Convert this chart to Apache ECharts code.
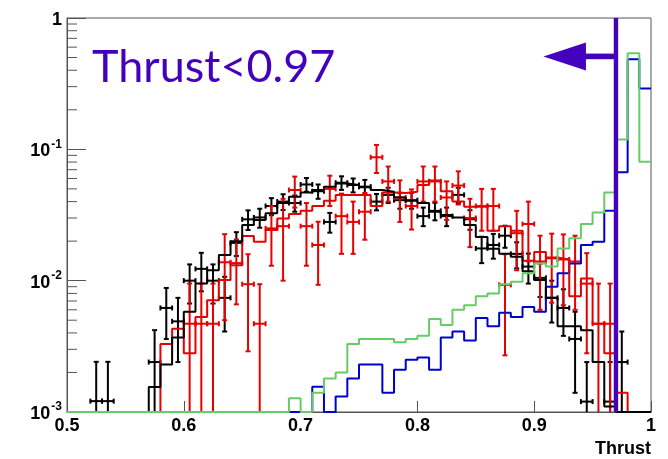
<!DOCTYPE html>
<html><head><meta charset="utf-8">
<script src="https://cdn.jsdelivr.net/npm/echarts@6/dist/echarts.min.js"></script>
<style>html,body{margin:0;padding:0;background:#fff}#c{width:668px;height:459px}</style>
</head><body><div id="c"></div>
<script>
// ---- data ----
const binEdges = [0.50,0.51,0.52,0.53,0.54,0.55,0.56,0.57,0.58,0.59,0.60,0.61,0.62,0.63,0.64,0.65,0.66,0.67,0.68,0.69,0.70,0.71,0.72,0.73,0.74,0.75,0.76,0.77,0.78,0.79,0.80,0.81,0.82,0.83,0.84,0.85,0.86,0.87,0.88,0.89,0.90,0.91,0.92,0.93,0.94,0.95,0.96,0.97,0.98,0.99,1.00];
const blackMC = [0,0,0,0,0,0,0,0.00155,0.0023,0.0037,0.0058,0.0095,0.012,0.0157,0.020,0.0265,0.029,0.0326,0.039,0.0436,0.047,0.049,0.052,0.055,0.0535,0.0514,0.049,0.0476,0.043,0.0406,0.039,0.0335,0.0316,0.0303,0.0265,0.0215,0.0175,0.016,0.0152,0.0118,0.0101,0.0074,0.0045,0.0045,0.0042,0.0024,0.0011,0,0,0];
const redMC = [0,0,0,0,0,0,0,0,0.0033,0.0043,0.0028,0.0053,0.0071,0.0101,0.0131,0.0219,0.0198,0.0243,0.0297,0.0322,0.034,0.037,0.0406,0.045,0.045,0.045,0.037,0.047,0.0465,0.0476,0.0535,0.058,0.048,0.040,0.0365,0.0365,0.024,0.026,0.024,0.0142,0.0165,0.015,0.0145,0.0076,0.0104,0.0047,0.0028,0.0014,0,0];
const greenMC = [0,0,0,0,0,0,0,0,0,0,0,0,0,0,0,0,0,0,0,0.00127,0,0.0014,0.0018,0.002,0.0033,0.0036,0.0036,0.0036,0.0034,0.0036,0.0038,0.0051,0.0046,0.006,0.0065,0.0076,0.008,0.0094,0.0098,0.0114,0.0135,0.0128,0.0176,0.021,0.027,0.033,0.047,0.119,0.538,0.0805];
const blueMC = [0,0,0,0,0,0,0,0,0,0,0,0,0,0,0,0,0,0,0,0,0,0.00156,0,0.00131,0.0018,0.0023,0.0023,0.0014,0.0021,0.0025,0.0026,0.0021,0.0037,0.0041,0.0035,0.0052,0.0045,0.0057,0.0053,0.0063,0.0058,0.009,0.0114,0.0135,0.0187,0.0198,0.034,0.067,0.485,0.291];
const blackData = [null,null,0.00121,0.00121,null,null,null,0.0024,0.0062,0.0049,0.010,0.0123,0.010,0.0074,0.0194,0.0293,0.0303,0.037,0.040,0.039,0.054,0.048,0.028,0.0557,0.0535,0.052,0.040,0.045,0.041,0.041,0.031,0.034,0.031,0.045,0.0294,0.0176,0.0187,0.022,0.016,0.0128,0.0105,0.0074,0.0062,0.0036,0.0012,null,0.0012,0.0024,null,null];
const blackErr  = [null,null,0.0012,0.0012,null,null,null,0.0018,0.0026,0.0025,0.0033,0.004,0.0033,0.0033,0.004,0.005,0.005,0.0055,0.0055,0.0055,0.0065,0.006,0.0048,0.0066,0.0065,0.0065,0.0057,0.006,0.0057,0.0057,0.005,0.0052,0.005,0.006,0.005,0.004,0.004,0.0042,0.0036,0.0033,0.003,0.0026,0.0024,0.0022,0.0012,null,0.0012,0.0017,null,null];
const redData = [null,null,null,null,null,null,null,null,null,null,0.0047,0.0047,0.0047,0.0138,0.0136,0.0094,0.0047,0.025,0.026,0.049,0.026,0.0187,0.05,0.031,0.028,0.0335,0.087,0.057,0.043,0.037,0.057,0.057,0.043,0.053,0.030,0.037,0.037,0.0093,0.023,0.027,0.014,0.0148,0.0145,0.014,0.0095,0.0047,0.0047,null,null,null];
const redErr  = [null,null,null,null,null,null,null,null,null,null,0.0048,0.0048,0.0048,0.0088,0.007,0.0065,0.0047,0.012,0.016,0.013,0.013,0.0094,0.013,0.015,0.012,0.013,0.021,0.017,0.015,0.0125,0.017,0.017,0.014,0.015,0.012,0.013,0.013,0.0066,0.011,0.013,0.008,0.008,0.008,0.008,0.0067,0.0048,0.0048,null,null,null];
const yMinorTicks = [0.002,0.003,0.004,0.005,0.006,0.007,0.008,0.009,0.02,0.03,0.04,0.05,0.06,0.07,0.08,0.09,0.2,0.3,0.4,0.5,0.6,0.7,0.8,0.9];
const xTicks = [0.5,0.6,0.7,0.8,0.9,1.0];
const cutValue = 0.97;
const arrowLevel = 0.51;
const cutLabel = 'Thrust<0.97';
const xTitle = 'Thrust';

// ---- style ----
const X_MIN = 0.5, X_MAX = 1.0, Y_MIN = 0.001, Y_MAX = 1;
const PURPLE = '#4300bd';
const COLORS = {black:'#000000', red:'#e60000', green:'#66cc66', blue:'#0000cc'};
const AXIS_COL = '#555555';

function stepData(vals){
  const d = vals.map((v,i)=>[binEdges[i], v>0 ? v : Y_MIN]);
  d.push([binEdges[vals.length], d[d.length-1][1]]);
  return d;
}
function pointData(vals, errs){
  const d = [];
  vals.forEach((v,i)=>{
    if (v == null) return;
    const c = (binEdges[i]+binEdges[i+1])/2, hw = (binEdges[i+1]-binEdges[i])/2;
    d.push([c, v, errs[i], hw]);
  });
  return d;
}
function errorBarItem(params, api){
  const xc = api.value(0), v = api.value(1), e = api.value(2), hw = api.value(3);
  const lo = Math.max(v - e, Y_MIN), hi = Math.min(v + e, Y_MAX);
  const c = api.coord([xc, v]), l = api.coord([xc-hw, v]), r = api.coord([xc+hw, v]);
  const t = api.coord([xc, hi]), b = api.coord([xc, lo]);
  const style = {stroke: api.visual('color'), lineWidth: 2};
  const cap = 2.5;
  const ch = [
    {type:'line', shape:{x1:l[0], y1:c[1], x2:r[0], y2:c[1]}, style},
    {type:'line', shape:{x1:c[0], y1:t[1], x2:c[0], y2:b[1]}, style},
    {type:'line', shape:{x1:c[0]-cap, y1:t[1], x2:c[0]+cap, y2:t[1]}, style},
    {type:'line', shape:{x1:l[0], y1:c[1]-cap, x2:l[0], y2:c[1]+cap}, style},
    {type:'line', shape:{x1:r[0], y1:c[1]-cap, x2:r[0], y2:c[1]+cap}, style}
  ];
  if (v - e > Y_MIN) ch.push({type:'line', shape:{x1:c[0]-cap, y1:b[1], x2:c[0]+cap, y2:b[1]}, style});
  return {type:'group', children: ch};
}
function stepSeries(vals, color){
  return {type:'line', step:'end', data: stepData(vals), symbol:'none', clip:false,
    lineStyle:{color, width:2}, itemStyle:{color}, silent:true};
}

const chart = echarts.init(document.getElementById('c'), null, {renderer:'canvas'});
chart.setOption({
  animation:false,
  backgroundColor:'#ffffff',
  grid:{left:67, right:17, top:18, bottom:47, show:true, borderColor:AXIS_COL, borderWidth:1, backgroundColor:'transparent'},
  xAxis:{type:'value', min:X_MIN, max:X_MAX, interval:0.1,
    axisLine:{show:true, onZero:false, lineStyle:{color:AXIS_COL, width:1}},
    axisTick:{show:true, inside:true, length:11, lineStyle:{color:AXIS_COL}},
    splitLine:{show:false},
    axisLabel:{margin:5, color:'#000', fontSize:18, fontWeight:'bold', fontFamily:'Liberation Sans, Arial, sans-serif',
      formatter:v=>String(Math.round(v*10)/10)}},
  yAxis:{type:'log', logBase:10, min:Y_MIN, max:Y_MAX,
    axisLine:{show:true, lineStyle:{color:AXIS_COL, width:1}},
    axisTick:{show:true, inside:true, length:19, lineStyle:{color:AXIS_COL}},
    splitLine:{show:false},
    axisLabel:{margin:5, color:'#000', fontFamily:'Liberation Sans, Arial, sans-serif',
      formatter:v=>{ const k = Math.round(Math.log10(v)); return k===0 ? '{b|1}' : '{b|10}{s|'+k+'}'; },
      rich:{ b:{fontSize:18, fontWeight:'bold', lineHeight:22, padding:[10,0,0,0], verticalAlign:'bottom'},
             s:{fontSize:12, fontWeight:'bold', lineHeight:22, verticalAlign:'top', padding:[0,0,0,1]} }}},
  graphic:[
    {type:'text', x:92, y:45, scaleX:1.0, z:100, style:{text:cutLabel, fontSize:45, fontFamily:'Lato, sans-serif', fontWeight:'normal', fill:PURPLE, textVerticalAlign:'top'}},
    {type:'text', right:17, top:440, z:100, style:{text:xTitle, fontSize:18, fontWeight:'bold', fontFamily:'Liberation Sans, Arial, sans-serif', fill:'#000'}}
  ],
  series:[
    {type:'custom', silent:true, clip:false, data:yMinorTicks.map(v=>[X_MIN, v]),
      renderItem:(p, api)=>{ const q = api.coord([api.value(0), api.value(1)]);
        return {type:'line', shape:{x1:q[0], y1:q[1], x2:q[0]+10, y2:q[1]}, style:{stroke:AXIS_COL, lineWidth:1}}; }},
    stepSeries(blueMC, COLORS.blue),
    stepSeries(redMC, COLORS.red),
    stepSeries(blackMC, COLORS.black),
    stepSeries(greenMC, COLORS.green),
    {type:'custom', silent:true, clip:false, itemStyle:{color:COLORS.black}, data:pointData(blackData, blackErr), renderItem:errorBarItem},
    {type:'custom', silent:true, clip:false, itemStyle:{color:COLORS.red}, data:pointData(redData, redErr), renderItem:errorBarItem},
    {type:'custom', silent:true, clip:false, z:10, data:[[cutValue, arrowLevel]],
      renderItem:(p, api)=>{
        const cx = api.value(0), ay = api.value(1);
        const t = api.coord([cx, Y_MAX]), b = api.coord([cx, Y_MIN]), a = api.coord([cx, ay]);
        return {type:'group', children:[
          {type:'rect', shape:{x:t[0]-2.2, y:t[1], width:4.4, height:b[1]-t[1]}, style:{fill:PURPLE}},
          {type:'rect', shape:{x:a[0]-31, y:a[1]-2.8, width:31, height:5.6}, style:{fill:PURPLE}},
          {type:'polygon', shape:{points:[[a[0]-72.5, a[1]], [a[0]-30, a[1]-14], [a[0]-30, a[1]+14]]}, style:{fill:PURPLE}}
        ]};
      }}
  ]
});
</script></body></html>
